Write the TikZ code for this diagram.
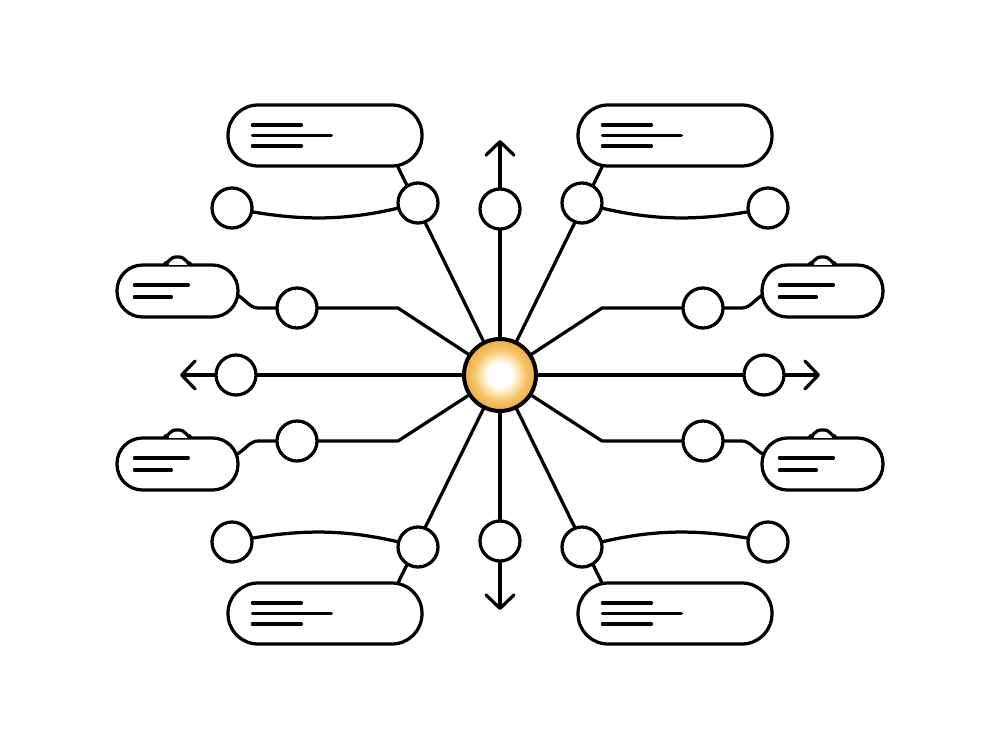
\documentclass[tikz,border=0pt]{standalone}
\usetikzlibrary{arrows.meta,calc}
\definecolor{gedge}{HTML}{EFAE45}
\definecolor{gout}{HTML}{F5C46C}
\definecolor{gmid}{HTML}{FCE6B0}
\pgfdeclareradialshading{glow}{\pgfpoint{0bp}{0bp}}{color(0bp)=(white); color(8.5bp)=(white); color(13bp)=(gmid); color(18bp)=(gout); color(24bp)=(gedge); color(50bp)=(gedge)}
\pgfdeclarelayer{bg}
\pgfsetlayers{bg,main}
\tikzset{
  ln/.style={line width=0.065cm, line cap=round, line join=round},
  arr/.style={ln, -{Straight Barb[length=0.27cm,width=0.56cm,round]}},
  dot/.style={circle, draw, fill=white, line width=0.065cm, minimum size=0.8cm, inner sep=0pt},
  hub/.style={circle, draw, shading=glow, line width=0.08cm, minimum size=1.44cm, inner sep=0pt},
  bigbox/.style={rectangle, draw, fill=white, line width=0.065cm, rounded corners=0.6cm, minimum width=3.88cm, minimum height=1.22cm, inner sep=0pt},
  sidebox/.style={rectangle, draw, fill=white, line width=0.065cm, rounded corners=0.51cm, minimum width=2.42cm, minimum height=1.04cm, inner sep=0pt},
  txt/.style={line width=0.065cm, line cap=round},
}
\begin{document}
\begin{tikzpicture}[x=0.02cm,y=-0.02cm]
\useasboundingbox (0,0) rectangle (1000,750);
% hub
\node[hub] (c) at (500,375) {};
% circles
\node[dot] (nU) at (500,209) {};
\node[dot] (nD) at (500,541) {};
\node[dot] (nL) at (236,375) {};
\node[dot] (nR) at (764,375) {};
\node[dot] (nUL) at (418,203) {};
\node[dot] (nULo) at (232,208) {};
\node[dot] (nUR) at (582,203) {};
\node[dot] (nURo) at (768,208) {};
\node[dot] (nDL) at (418,547) {};
\node[dot] (nDLo) at (232,542) {};
\node[dot] (nDR) at (582,547) {};
\node[dot] (nDRo) at (768,542) {};
\node[dot] (nLU) at (297,308) {};
\node[dot] (nLD) at (297,441) {};
\node[dot] (nRU) at (703,308) {};
\node[dot] (nRD) at (703,441) {};
% boxes
\node[bigbox] (bUL) at (325,135.5) {};
\node[bigbox] (bUR) at (675,135.5) {};
\node[bigbox] (bDL) at (325,613.5) {};
\node[bigbox] (bDR) at (675,613.5) {};
\node[sidebox] (bLU) at (177.5,291) {};
\node[sidebox] (bLD) at (177.5,464) {};
\node[sidebox] (bRU) at (822.5,291) {};
\node[sidebox] (bRD) at (822.5,464) {};
% bumps on side boxes
\foreach \b in {bLU,bLD,bRU,bRD}{
  \fill[white] ($(\b.north)+(-9,-8)$) rectangle ($(\b.north)+(9,1.9)$);
  \draw[ln] ($(\b.north)+(-13,0)$) .. controls ($(\b.north)+(-8,0)$) and ($(\b.north)+(-9,-6.5)$) .. ($(\b.north)+(0,-6.5)$)
            .. controls ($(\b.north)+(9,-6.5)$) and ($(\b.north)+(8,0)$) .. ($(\b.north)+(13,0)$);
}
% placeholder text lines
\foreach \b in {bUL,bUR,bDL,bDR}{
  \draw[txt] ($(\b.west)+(26,-10.5)$) -- ++(49,0);
  \draw[txt] ($(\b.west)+(26,0)$) -- ++(79,0);
  \draw[txt] ($(\b.west)+(26,10.5)$) -- ++(49,0);
}
\foreach \b in {bLU,bLD,bRU,bRD}{
  \draw[txt] ($(\b.west)+(19,-6)$) -- ++(54,0);
  \draw[txt] ($(\b.west)+(19,6)$) -- ++(37,0);
}
% named coordinates
\coordinate (tU) at (500,140);
\coordinate (tD) at (500,610);
\coordinate (tL) at (180,375);
\coordinate (tR) at (820,375);
\coordinate (kUL) at (396,163);
\coordinate (kUR) at (604,163);
\coordinate (kDL) at (396,587);
\coordinate (kDR) at (604,587);
\coordinate (jLU) at (398,308);
\coordinate (jLD) at (398,441);
\coordinate (jRU) at (602,308);
\coordinate (jRD) at (602,441);
\coordinate (hLU) at (258,308);
\coordinate (hLD) at (258,441);
\coordinate (hRU) at (742,308);
\coordinate (hRD) at (742,441);
\coordinate (eLU) at (235,294);
\coordinate (eLD) at (235,455);
\coordinate (eRU) at (765,294);
\coordinate (eRD) at (765,455);
\begin{pgfonlayer}{bg}
  \draw[arr] (c.center) -- (tU);
  \draw[arr] (c.center) -- (tD);
  \draw[arr] (c.center) -- (tL);
  \draw[arr] (c.center) -- (tR);
  \draw[ln] (c.center) -- (kUL);
  \draw[ln] (c.center) -- (kUR);
  \draw[ln] (c.center) -- (kDL);
  \draw[ln] (c.center) -- (kDR);
  \draw[ln] (c.center) -- (jLU) -- (hLU) .. controls (249,308) and (245,298) .. (eLU);
  \draw[ln] (c.center) -- (jLD) -- (hLD) .. controls (249,441) and (245,451) .. (eLD);
  \draw[ln] (c.center) -- (jRU) -- (hRU) .. controls (751,308) and (755,298) .. (eRU);
  \draw[ln] (c.center) -- (jRD) -- (hRD) .. controls (751,441) and (755,451) .. (eRD);
  \draw[ln] (nULo.center) .. controls (300,222) and (350,222) .. (nUL.center);
  \draw[ln] (nURo.center) .. controls (700,222) and (650,222) .. (nUR.center);
  \draw[ln] (nDLo.center) .. controls (300,528) and (350,528) .. (nDL.center);
  \draw[ln] (nDRo.center) .. controls (700,528) and (650,528) .. (nDR.center);
\end{pgfonlayer}
\end{tikzpicture}
\end{document}
